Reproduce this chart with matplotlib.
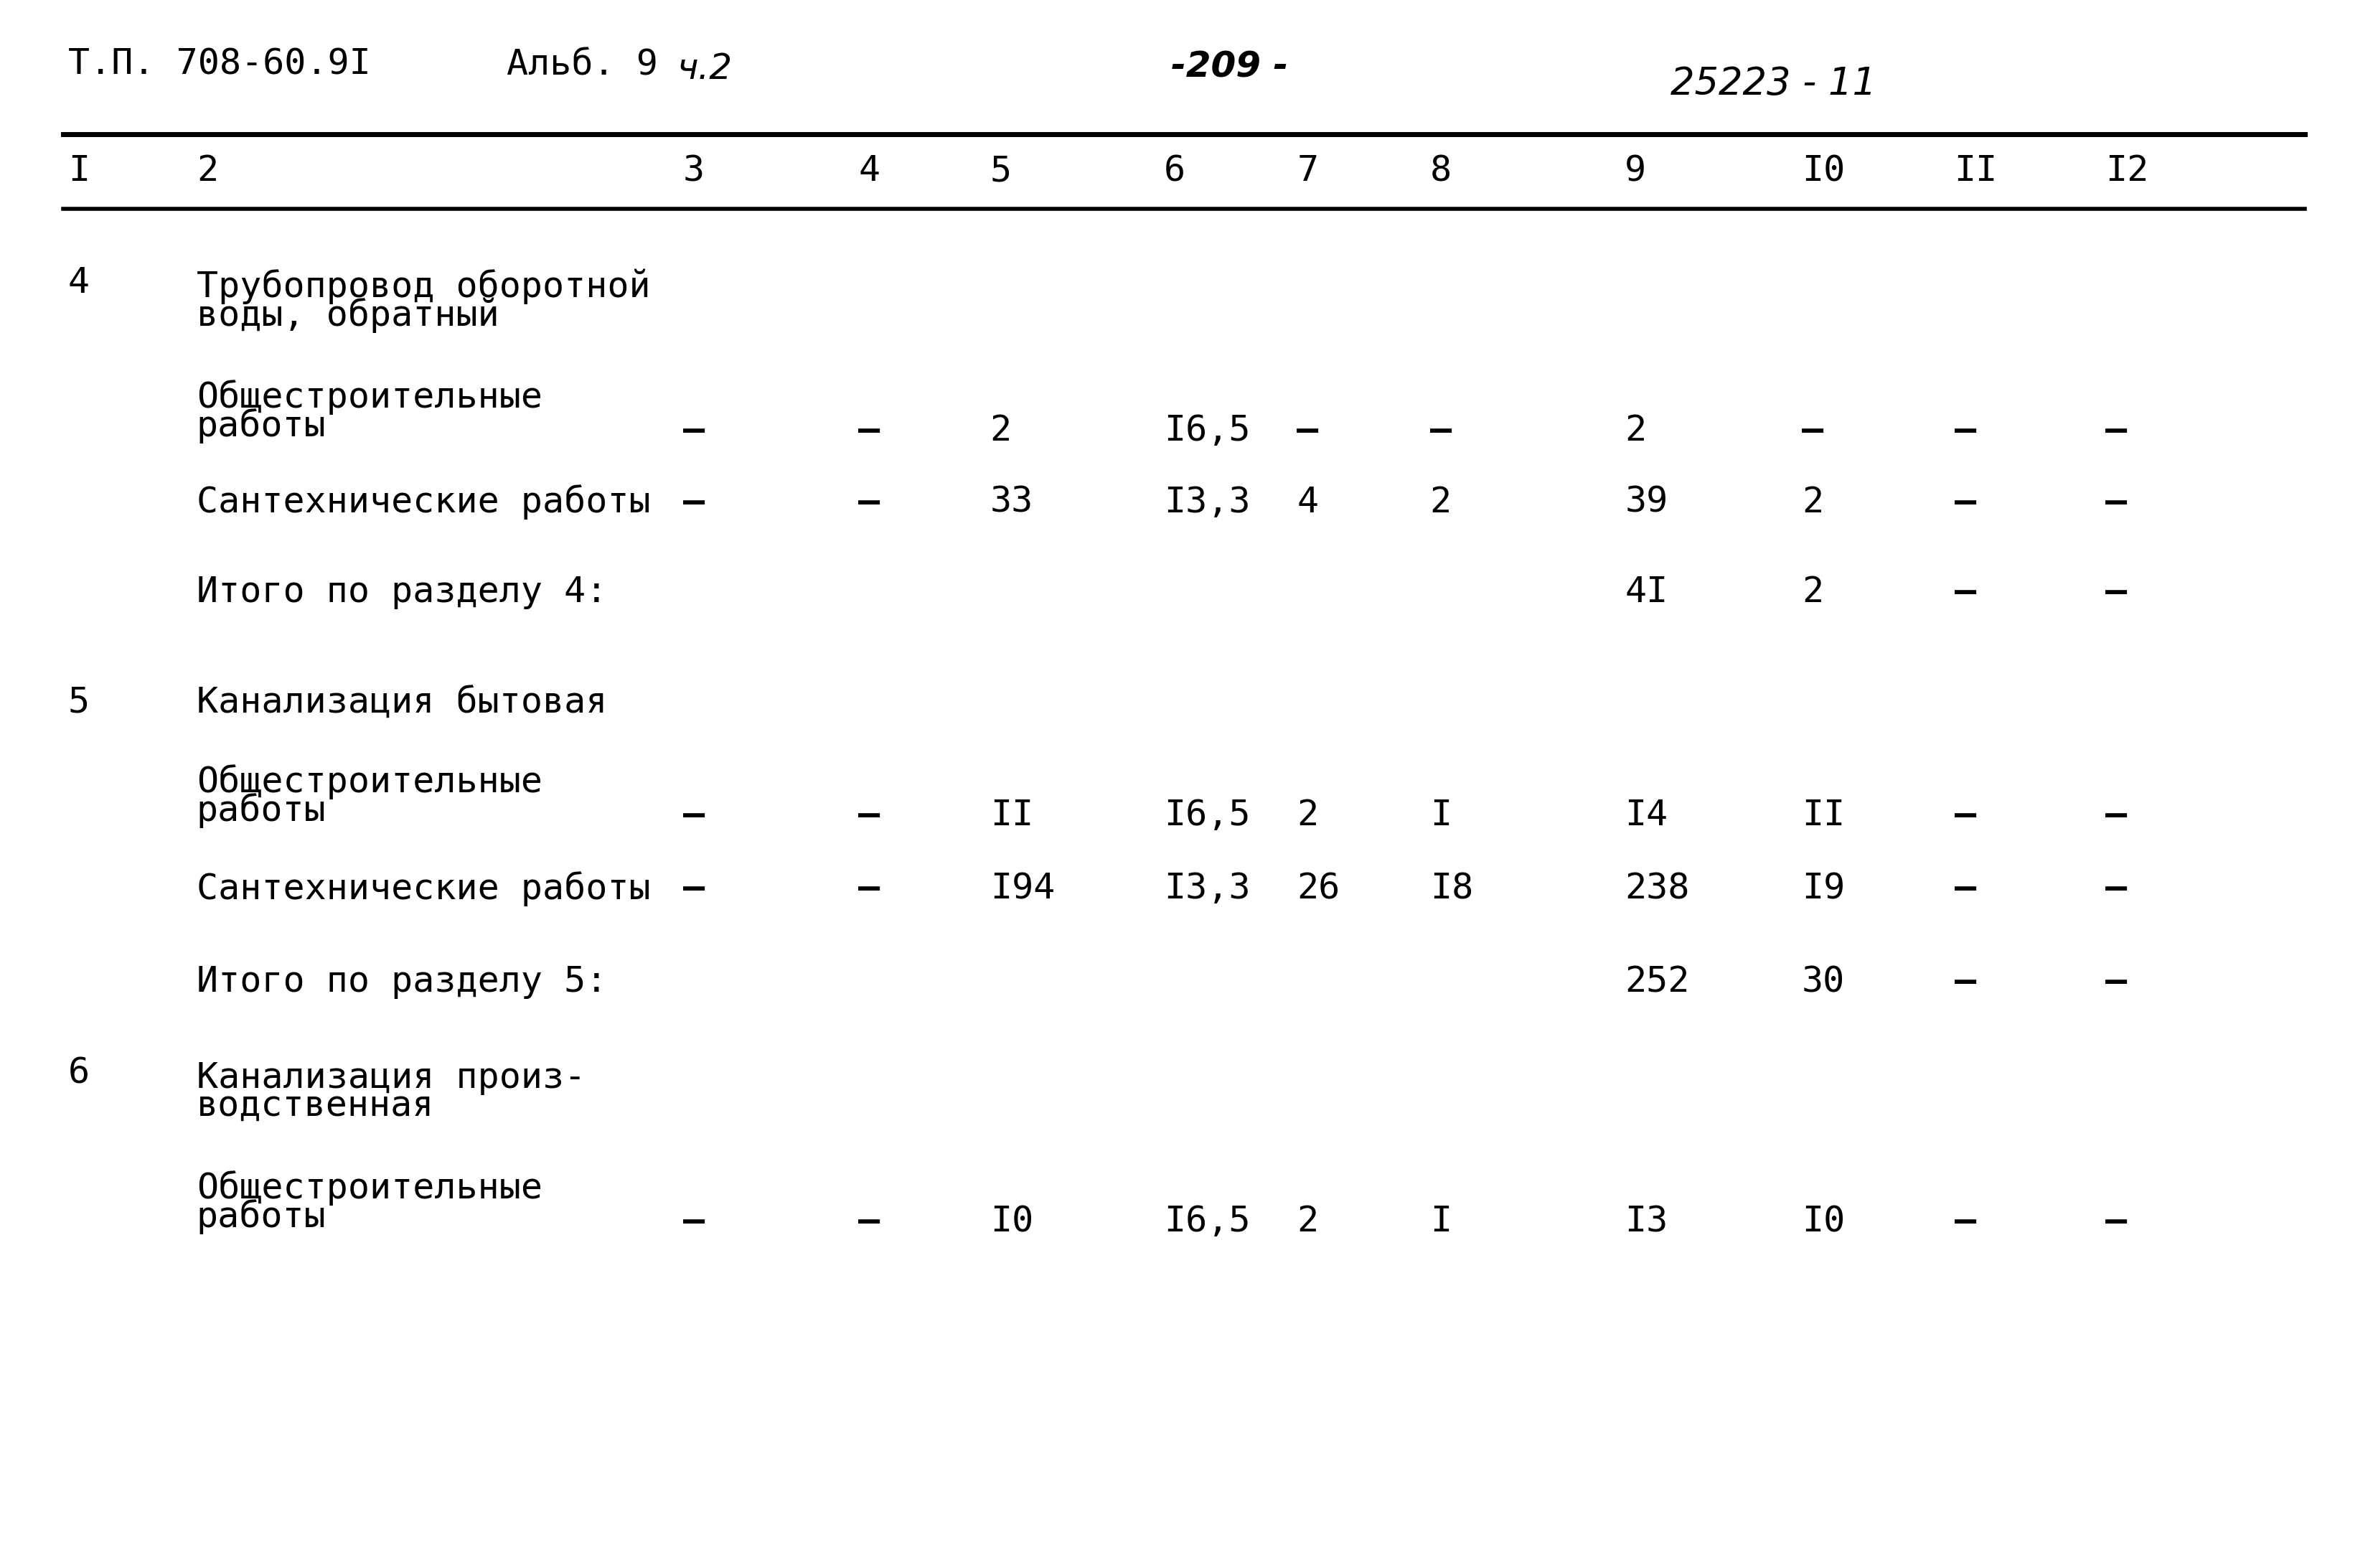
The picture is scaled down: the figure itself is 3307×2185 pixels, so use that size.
import matplotlib
matplotlib.use("Agg")
import matplotlib.pyplot as plt

W, H = 1570.0, 1027.0
col_headers = ["I", "2", "3", "4", "5", "6", "7", "8", "9", "I0", "II", "I2"]
col_x = [45, 130, 452, 568, 655, 770, 858, 946, 1075, 1192, 1293, 1393]

sec_nums = ["4", "5", "6"]
sec_titles = ["Трубопровод оборотной\nводы, обратный", "Канализация бытовая",
              "Канализация произ-\nводственная"]
sec_y = [185, 460, 703]

row_labels = ["Общестроительные\nработы", "Сантехнические работы", "Итого по разделу 4:",
              "Общестроительные\nработы", "Сантехнические работы", "Итого по разделу 5:",
              "Общестроительные\nработы"]
row_label_y = [257, 329, 388, 509, 582, 643, 775]
row_val_y = [282, 329, 388, 534, 582, 643, 800]
row_values = [
    ["–", "–", "2", "I6,5", "–", "–", "2", "–", "–", "–"],
    ["–", "–", "33", "I3,3", "4", "2", "39", "2", "–", "–"],
    ["", "", "", "", "", "", "4I", "2", "–", "–"],
    ["–", "–", "II", "I6,5", "2", "I", "I4", "II", "–", "–"],
    ["–", "–", "I94", "I3,3", "26", "I8", "238", "I9", "–", "–"],
    ["", "", "", "", "", "", "252", "30", "–", "–"],
    ["–", "–", "I0", "I6,5", "2", "I", "I3", "I0", "–", "–"],
]

fig = plt.figure(figsize=(33.07, 21.85), dpi=100)
FONT = "DejaVu Sans Mono"
FS = 36

def T(x, y, s, **kw):
    kw.setdefault("fontsize", FS)
    kw.setdefault("family", FONT)
    fig.text(x / W, 1 - y / H, s, va="center", ha="left", linespacing=0.75, **kw)

T(45, 42, "Т.П. 708-60.9I")
T(335, 42, "Альб. 9")
T(448, 45, "ч.2", style="italic", family="DejaVu Sans")
T(775, 44, "-209 -", style="italic", weight="bold", family="DejaVu Sans")
T(1105, 55, "25223 - 11", style="italic", family="DejaVu Sans", fontsize=38)

for yy, lw in [(88, 5), (137, 4)]:
    fig.add_artist(plt.Line2D([42 / W, 1525 / W], [1 - yy / H] * 2, color="black", lw=lw))

for x, h in zip(col_x, col_headers):
    T(x, 112, h)

for n, t, y in zip(sec_nums, sec_titles, sec_y):
    T(45, y, n)
    T(130, y + (12 if "\n" in t else 0), t)

for lab, ly, vy, vals in zip(row_labels, row_label_y, row_val_y, row_values):
    T(130, (ly + vy) / 2 if "\n" in lab else ly, lab)
    for x, v in zip(col_x[2:], vals):
        if v:
            T(x, vy, v, weight="bold" if v == "–" else "normal")

fig.savefig("out.png", dpi=100, facecolor="white")
